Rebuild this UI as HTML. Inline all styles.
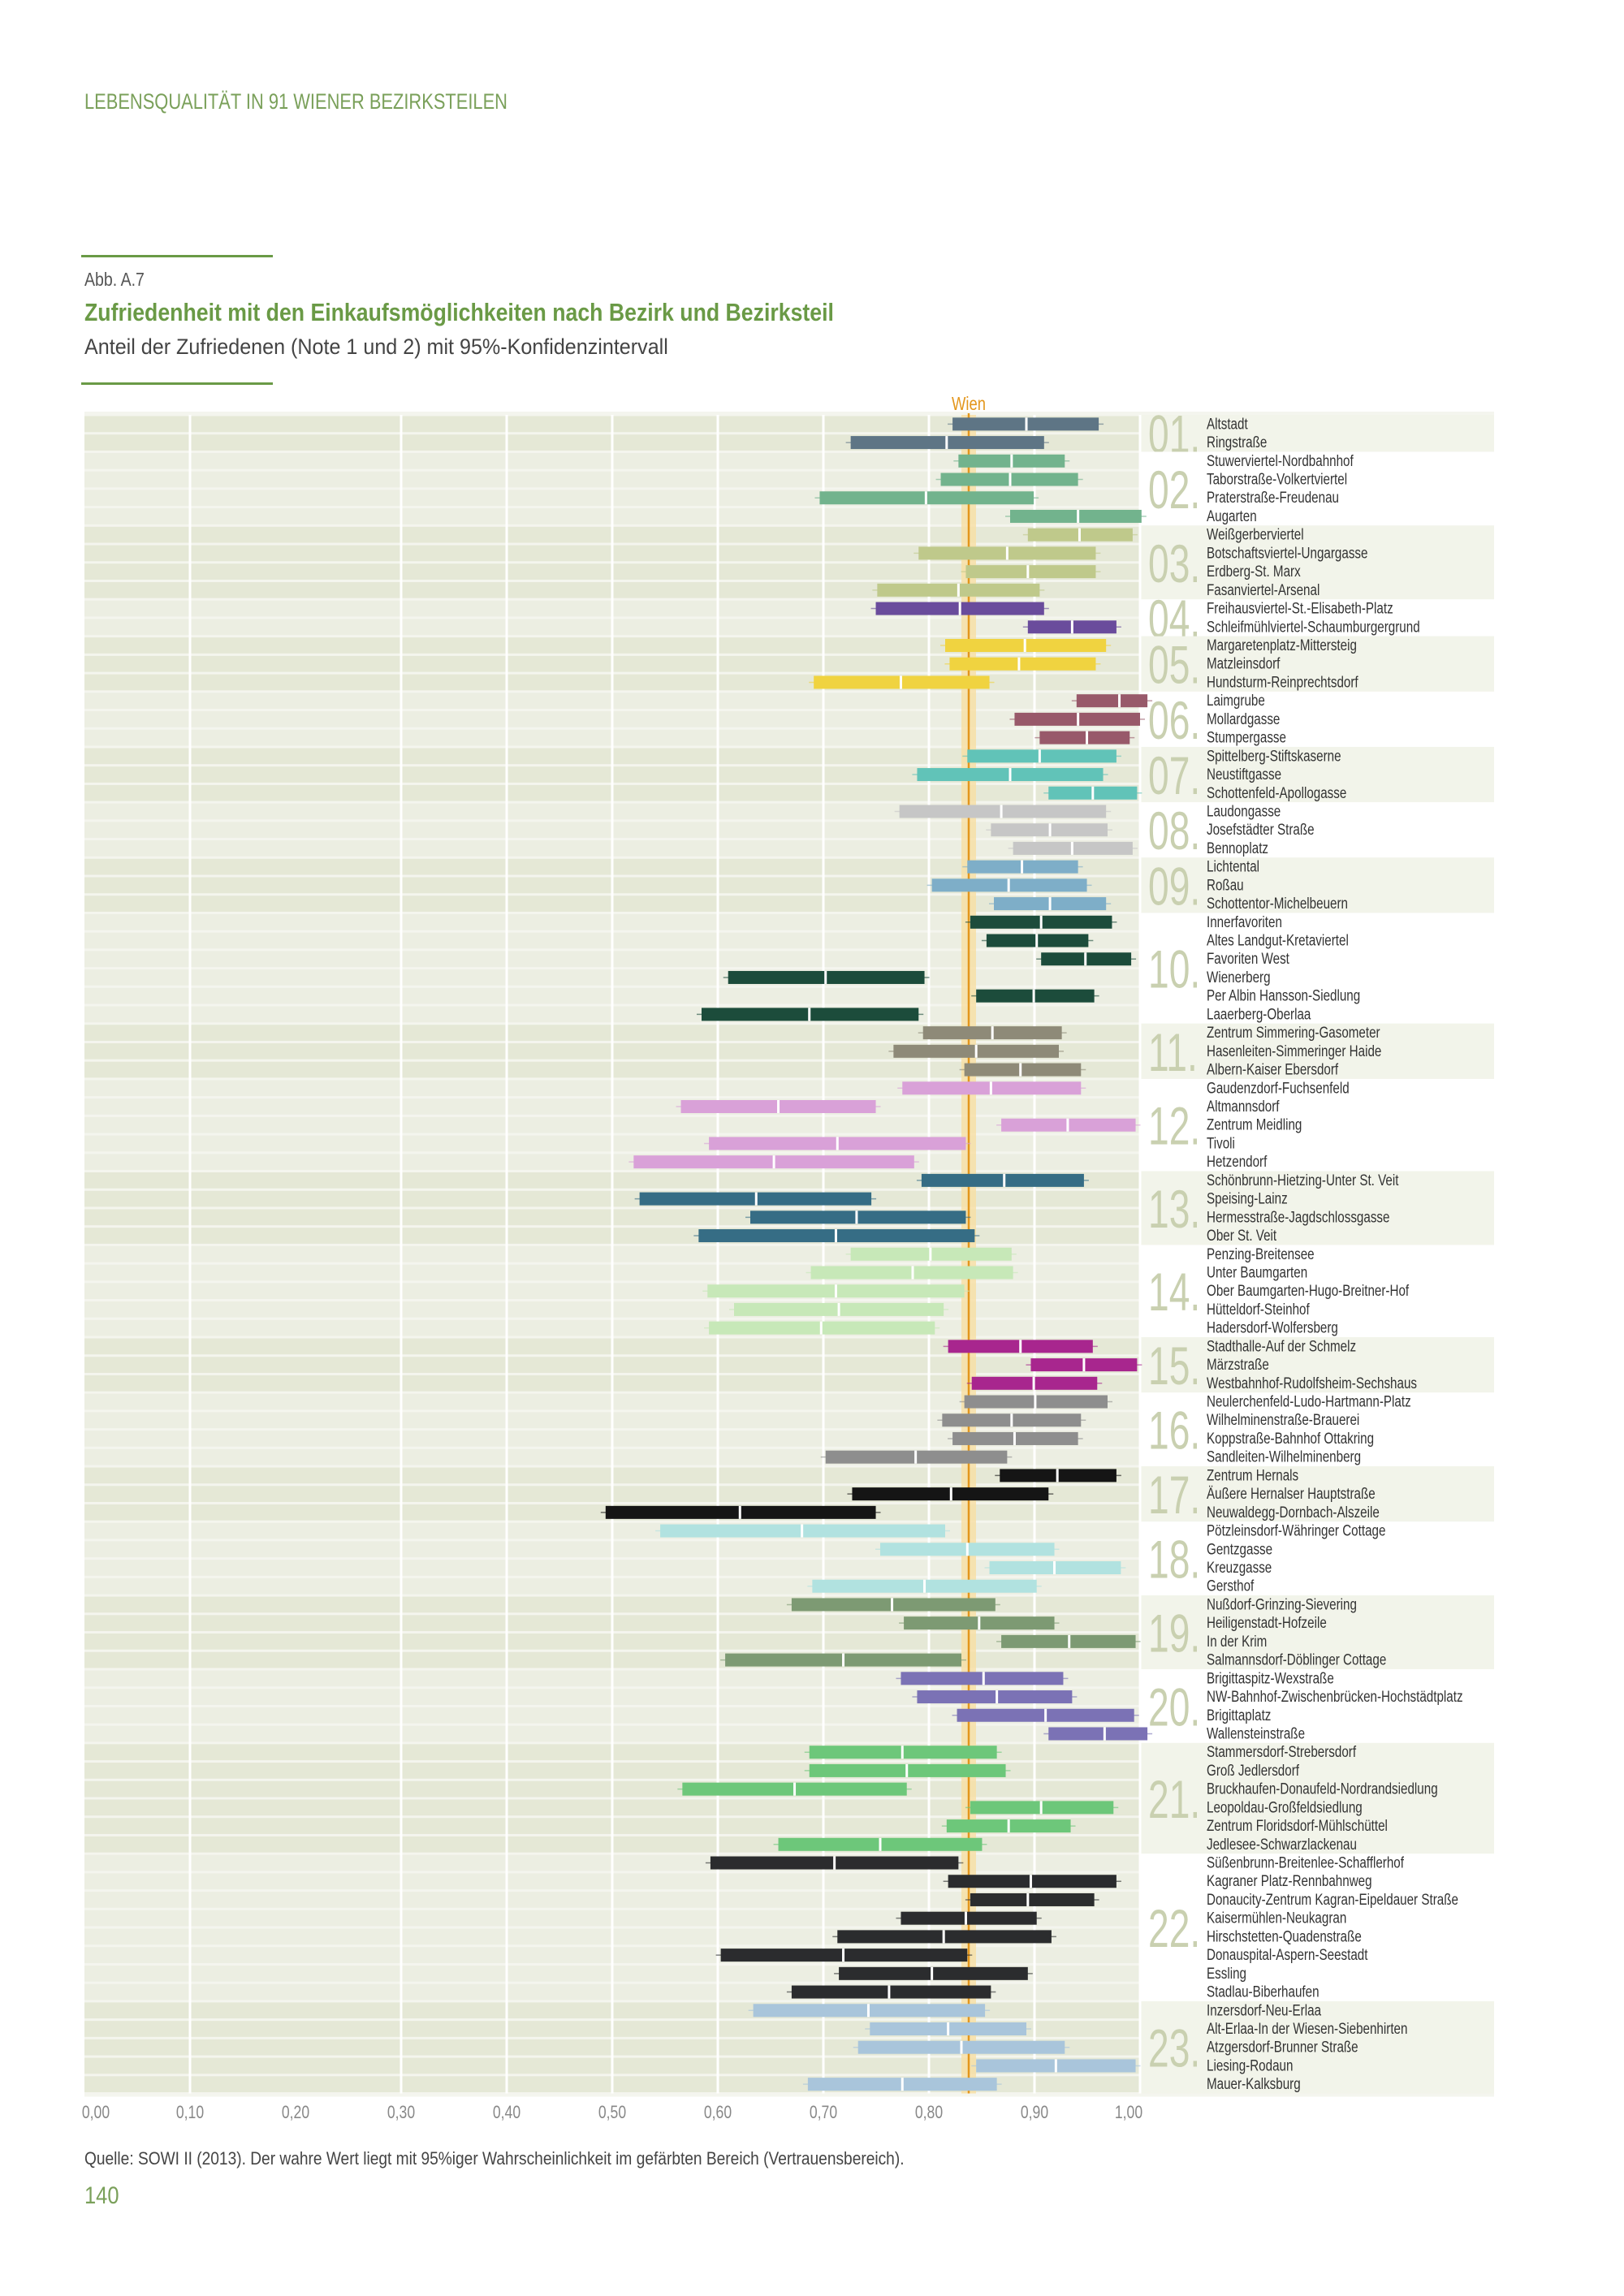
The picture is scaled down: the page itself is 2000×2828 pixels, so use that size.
<!DOCTYPE html>
<html><head><meta charset="utf-8">
<style>
html,body{margin:0;padding:0;background:#fff;}
body{width:2000px;height:2828px;position:relative;overflow:hidden;font-family:"Liberation Sans",sans-serif;}
.t{position:absolute;white-space:nowrap;transform-origin:0 0;}
</style></head><body>
<div class="t" style="left:104px;top:110px;font-size:27px;color:#7aa05a;transform:scaleX(0.81)">LEBENSQUALITÄT IN 91 WIENER BEZIRKSTEILEN</div>
<div style="position:absolute;left:100px;top:314px;width:236px;height:3px;background:#6a9a46"></div>
<div class="t" style="left:104px;top:331px;font-size:23px;color:#555;transform:scaleX(0.85)">Abb. A.7</div>
<div class="t" style="left:104px;top:367px;font-size:31px;font-weight:bold;color:#6a9a46;transform:scaleX(0.86)">Zufriedenheit mit den Einkaufsmöglichkeiten nach Bezirk und Bezirksteil</div>
<div class="t" style="left:104px;top:412px;font-size:27px;color:#444;transform:scaleX(0.93)">Anteil der Zufriedenen (Note 1 und 2) mit 95%-Konfidenzintervall</div>
<div style="position:absolute;left:100px;top:471px;width:236px;height:3px;background:#6a9a46"></div>
<div class="t" style="left:104px;top:2646px;font-size:22px;color:#444;transform:scaleX(0.87)">Quelle: SOWI II (2013). Der wahre Wert liegt mit 95%iger Wahrscheinlichkeit im gefärbten Bereich (Vertrauensbereich).</div>
<div class="t" style="left:104px;top:2688px;font-size:30px;color:#7aa05a;transform:scaleX(0.85)">140</div>
<svg id="s" width="2000" height="2828" style="position:absolute;left:0;top:0" xmlns="http://www.w3.org/2000/svg" font-family="Liberation Sans, sans-serif"></svg>
<script>
var D=[
["01.","#5e7585",[["Altstadt",646,696,745],["Ringstraße",577,642,708]]],
["02.","#72b38d",[["Stuwerviertel-Nordbahnhof",650,686,722],["Taborstraße-Volkertviertel",638,685,731],["Praterstraße-Freudenau",556,628,701],["Augarten",685,731,774]]],
["03.","#bfc98b",[["Weißgerberviertel",697,732,768],["Botschaftsviertel-Ungargasse",623,683,743],["Erdberg-St. Marx",655,697,743],["Fasanviertel-Arsenal",595,650,705]]],
["04.","#6a4c9c",[["Freihausviertel-St.-Elisabeth-Platz",594,651,708],["Schleifmühlviertel-Schaumburgergrund",697,727,757]]],
["05.","#f0d340",[["Margaretenplatz-Mittersteig",641,695,750],["Matzleinsdorf",644,691,743],["Hundsturm-Reinprechtsdorf",552,611,671]]],
["06.","#98596a",[["Laimgrube",730,759,778],["Mollardgasse",688,731,773],["Stumpergasse",705,737,766]]],
["07.","#61c3b8",[["Spittelberg-Stiftskaserne",656,705,757],["Neustiftgasse",622,685,748],["Schottenfeld-Apollogasse",711,741,771]]],
["08.","#c6c6c6",[["Laudongasse",610,679,750],["Josefstädter Straße",672,712,751],["Bennoplatz",687,727,768]]],
["09.","#7eaec8",[["Lichtental",656,693,731],["Roßau",632,684,737],["Schottentor-Michelbeuern",674,712,750]]],
["10.","#1c4c3b",[["Innerfavoriten",658,706,754],["Altes Landgut-Kretaviertel",669,703,738],["Favoriten West",706,736,767],["Wienerberg",494,560,627],["Per Albin Hansson-Siedlung",662,701,742],["Laaerberg-Oberlaa",476,549,623]]],
["11.","#8e8a78",[["Zentrum Simmering-Gasometer",626,673,720],["Hasenleiten-Simmeringer Haide",606,662,718],["Albern-Kaiser Ebersdorf",654,692,733]]],
["12.","#d9a1d8",[["Gaudenzdorf-Fuchsenfeld",612,672,733],["Altmannsdorf",462,528,594],["Zentrum Meidling",679,724,770],["Tivoli",481,568,655],["Hetzendorf",430,525,620]]],
["13.","#366d85",[["Schönbrunn-Hietzing-Unter St. Veit",625,681,735],["Speising-Lainz",434,513,591],["Hermesstraße-Jagdschlossgasse",509,581,655],["Ober St. Veit",474,567,661]]],
["14.","#c7e8b8",[["Penzing-Breitensee",577,631,686],["Unter Baumgarten",550,619,687],["Ober Baumgarten-Hugo-Breitner-Hof",480,567,654],["Hütteldorf-Steinhof",498,569,640],["Hadersdorf-Wolfersberg",481,557,634]]],
["15.","#a8268e",[["Stadthalle-Auf der Schmelz",643,692,741],["Märzstraße",699,735,771],["Westbahnhof-Rudolfsheim-Sechshaus",659,701,744]]],
["16.","#8e8e8e",[["Neulerchenfeld-Ludo-Hartmann-Platz",654,702,751],["Wilhelminenstraße-Brauerei",639,686,733],["Koppstraße-Bahnhof Ottakring",646,688,731],["Sandleiten-Wilhelminenberg",560,621,683]]],
["17.","#151515",[["Zentrum Hernals",678,717,757],["Äußere Hernalser Hauptstraße",578,645,711],["Neuwaldegg-Dornbach-Alszeile",411,502,594]]],
["18.","#b1e2e0",[["Pötzleinsdorf-Währinger Cottage",448,544,641],["Gentzgasse",597,656,715],["Kreuzgasse",671,715,760],["Gersthof",551,627,703]]],
["19.","#7d9a73",[["Nußdorf-Grinzing-Sievering",537,605,675],["Heiligenstadt-Hofzeile",613,664,715],["In der Krim",679,725,770],["Salmannsdorf-Döblinger Cottage",492,572,652]]],
["20.","#7b72b5",[["Brigittaspitz-Wexstraße",611,667,721],["NW-Bahnhof-Zwischenbrücken-Hochstädtplatz",622,676,727],["Brigittaplatz",649,709,769],["Wallensteinstraße",711,749,778]]],
["21.","#6dc77a",[["Stammersdorf-Strebersdorf",549,612,676],["Groß Jedlersdorf",549,615,682],["Bruckhaufen-Donaufeld-Nordrandsiedlung",463,539,615],["Leopoldau-Großfeldsiedlung",658,706,755],["Zentrum Floridsdorf-Mühlschüttel",642,684,726],["Jedlesee-Schwarzlackenau",528,597,666]]],
["22.","#2b2c2e",[["Süßenbrunn-Breitenlee-Schafflerhof",482,566,650],["Kagraner Platz-Rennbahnweg",643,699,757],["Donaucity-Zentrum Kagran-Eipeldauer Straße",658,697,742],["Kaisermühlen-Neukagran",611,655,703],["Hirschstetten-Quadenstraße",568,640,713],["Donauspital-Aspern-Seestadt",489,572,656],["Essling",569,632,697],["Stadlau-Biberhaufen",537,603,672]]],
["23.","#a9c5db",[["Inzersdorf-Neu-Erlaa",511,589,668],["Alt-Erlaa-In der Wiesen-Siebenhirten",590,643,696],["Atzgersdorf-Brunner Straße",582,652,722],["Liesing-Rodaun",662,716,770],["Mauer-Kalksburg",548,612,676]]]
];
var X0=104,X1=1404,TOP=511,P=22.72,h='';
function X(o){return X0+(o-58)/715*(X1-X0);}
function T(x,y,s,sx,fill,txt,anchor){return '<text transform="translate('+x+','+y+') scale('+sx+',1)" font-size="'+s+'" fill="'+fill+'"'+(anchor?' text-anchor="'+anchor+'"':'')+'>'+txt+'</text>';}
h+='<rect x="'+X0+'" y="'+(TOP-4)+'" width="'+(1840-X0)+'" height="'+(91*P+8)+'" fill="#f4f5ee"/>';
var r=0;
D.forEach(function(d,gi){
 var n=d[2].length,y0=TOP+r*P;
 h+='<rect x="'+X1+'" y="'+y0+'" width="'+(1840-X1)+'" height="'+(n*P)+'" fill="'+(gi%2?'#ffffff':'#f2f4ea')+'"/>';
 for(var i=0;i<n;i++){var y=y0+i*P;
  h+='<rect x="'+X0+'" y="'+(y+1.5)+'" width="'+(X1-X0)+'" height="'+(P-3)+'" fill="'+(gi%2?'#eceee2':'#e5e8d6')+'"/>';}
 h+=T(1414,y0+n*P/2+24,66,0.7,'#c9d0b0',d[0]);
 r+=n;
});
for(var k=1;k<=10;k++){if(k==2)continue;var x=X0+k*(X1-X0)/10;h+='<line x1="'+x+'" x2="'+x+'" y1="'+TOP+'" y2="'+(TOP+91*P)+'" stroke="#fff" stroke-width="3"/>';}
h+='<rect x="1184" y="'+TOP+'" width="18" height="'+(91*P)+'" fill="#f7dfa3" opacity="0.8"/>';
h+='<line x1="1193" x2="1193" y1="'+(TOP-2)+'" y2="'+(TOP+91*P)+'" stroke="#e3961c" stroke-width="2.5"/>';
h+=T(1193,505,23,0.8,'#e3961c','Wien','middle');
r=0;
D.forEach(function(d){
 d[2].forEach(function(b){var yc=TOP+r*P+P/2;var a=X(b[1]),m=X(b[2]),c=X(b[3]);
  h+='<line x1="'+(a-6)+'" x2="'+(c+6)+'" y1="'+yc+'" y2="'+yc+'" stroke="'+d[1]+'" stroke-width="1.5" opacity="0.6"/>';
  h+='<rect x="'+a+'" y="'+(yc-8)+'" width="'+(c-a)+'" height="16" fill="'+d[1]+'"/>';
  h+='<rect x="'+(m-1.5)+'" y="'+(yc-8)+'" width="3" height="16" fill="#fff"/>';
  h+=T(1486,yc+6,19.5,0.78,'#333',b[0]);
  r++;});
});
for(var k=0;k<=10;k++){var x=X0+k*(X1-X0)/10;if(k==0)x=118;if(k==10)x=1390;h+=T(x,2609,22,0.8,'#888',(k==10?'1,00':'0,'+k+'0'),'middle');}
document.getElementById('s').innerHTML=h;
</script>
</body></html>
